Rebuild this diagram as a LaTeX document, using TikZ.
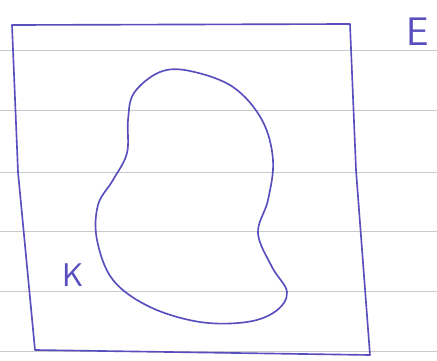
\documentclass[tikz,border=0pt]{standalone}
\usepackage{xcolor}
\usepackage{tikz}
\usetikzlibrary{positioning}

\definecolor{pen}{RGB}{88,78,190}
\definecolor{rule}{RGB}{200,200,205}

\begin{document}
\begin{tikzpicture}[x=0.03cm, y=-0.03cm,
    penline/.style={draw=pen, line width=1.4pt, line join=round},
    ruled/.style={draw=rule, line width=0.6pt},
    lbl/.style={text=pen, font=\sffamily\fontsize{34}{34}\selectfont, inner sep=0pt},
]

\useasboundingbox[fill=white] (0,0) rectangle (437,361);

% Ruled paper lines
\foreach \y in {50, 110, 172, 231, 291, 351} {
    \draw[ruled] (0,\y) -- (437,\y);
}

% Outer set
\draw[penline] (12,25) -- (350,24) -- (356,170) -- (370,355) -- (35,350) -- (18,172) -- cycle;

% Inner blob
\draw[penline] plot[smooth cycle, tension=0.6] coordinates {
    (160,72) (190,71) (233,87) (262,120) (273,160) (268,200)
    (258,233) (272,267) (287,292) (276,311) (247,322) (200,322)
    (150,307) (113,280) (97,240) (98,205) (113,180) (127,153)
    (128,120) (134,93)
};

% Labels
\node[lbl] (setE) at (418,32) {E};
\node[lbl, font=\sffamily\fontsize{28}{28}\selectfont] (setK) at (73,275) {K};

\end{tikzpicture}
\end{document}
